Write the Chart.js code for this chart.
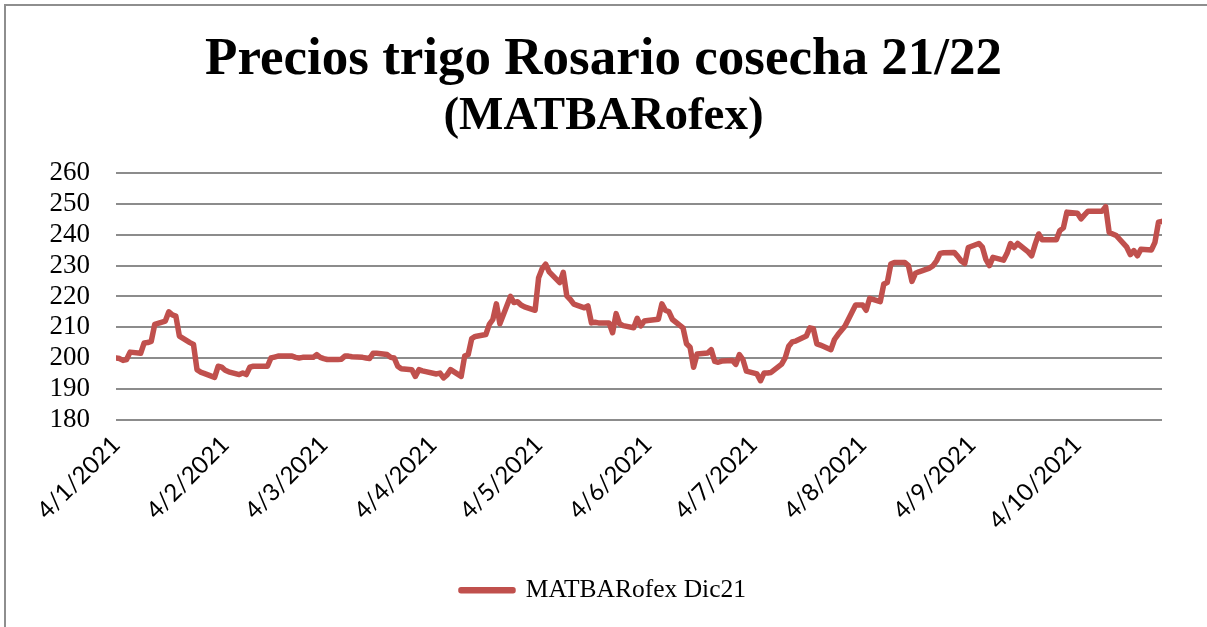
<!DOCTYPE html>
<html>
<head>
<meta charset="utf-8">
<script src="https://cdn.jsdelivr.net/npm/chart.js@4"></script>
<style>
  body { margin: 0; background: #fff; }
  #frame { position: absolute; left: 4px; top: 4px; width: 1400px; height: 800px;
           border-top: 2px solid #8e8e8e; border-left: 2px solid #8e8e8e; }
  #wrap { position: absolute; left: 0; top: 0; width: 1207px; height: 627px; overflow: hidden; }
  canvas { position: absolute; left: 0; top: 0; }
</style>
</head>
<body>
<div id="wrap">
  <div id="frame"></div>
  <canvas id="chart" width="1207" height="627"></canvas>
</div>
<script>
// fechas de rueda y precio (USD/t) MATBARofex Dic21
const dates = [
  "2021-01-04","2021-01-05","2021-01-06","2021-01-07","2021-01-08","2021-01-11","2021-01-12","2021-01-13","2021-01-14","2021-01-15",
  "2021-01-18","2021-01-19","2021-01-20","2021-01-21","2021-01-22","2021-01-25","2021-01-26","2021-01-27","2021-01-28","2021-01-29",
  "2021-02-01","2021-02-02","2021-02-03","2021-02-04","2021-02-05","2021-02-08","2021-02-09","2021-02-10","2021-02-11","2021-02-12",
  "2021-02-16","2021-02-17","2021-02-18","2021-02-19","2021-02-22","2021-02-23","2021-02-24","2021-02-25","2021-02-26",
  "2021-03-01","2021-03-02","2021-03-03","2021-03-04","2021-03-05","2021-03-08","2021-03-09","2021-03-10","2021-03-11","2021-03-12",
  "2021-03-15","2021-03-16","2021-03-17","2021-03-18","2021-03-19","2021-03-22","2021-03-23","2021-03-24","2021-03-25","2021-03-26",
  "2021-03-29","2021-03-30","2021-03-31","2021-04-01","2021-04-05","2021-04-06","2021-04-07","2021-04-08","2021-04-09",
  "2021-04-12","2021-04-13","2021-04-14","2021-04-15","2021-04-16","2021-04-19","2021-04-20","2021-04-21","2021-04-22","2021-04-23",
  "2021-04-26","2021-04-27","2021-04-28","2021-04-29","2021-04-30","2021-05-03","2021-05-04","2021-05-05","2021-05-06","2021-05-07",
  "2021-05-10","2021-05-11","2021-05-12","2021-05-13","2021-05-14","2021-05-17","2021-05-18","2021-05-19","2021-05-20","2021-05-21",
  "2021-05-24","2021-05-25","2021-05-26","2021-05-27","2021-05-28","2021-05-31","2021-06-01","2021-06-02","2021-06-03","2021-06-04",
  "2021-06-07","2021-06-08","2021-06-09","2021-06-10","2021-06-11","2021-06-14","2021-06-15","2021-06-16","2021-06-17","2021-06-18",
  "2021-06-21","2021-06-22","2021-06-23","2021-06-24","2021-06-25","2021-06-28","2021-06-29","2021-06-30","2021-07-01","2021-07-02",
  "2021-07-05","2021-07-06","2021-07-07","2021-07-08","2021-07-09","2021-07-12","2021-07-13","2021-07-14","2021-07-15","2021-07-16",
  "2021-07-19","2021-07-20","2021-07-21","2021-07-22","2021-07-23","2021-07-26","2021-07-27","2021-07-28","2021-07-29","2021-07-30",
  "2021-08-02","2021-08-03","2021-08-04","2021-08-05","2021-08-06","2021-08-09","2021-08-10","2021-08-11","2021-08-12","2021-08-13",
  "2021-08-16","2021-08-17","2021-08-18","2021-08-19","2021-08-20","2021-08-23","2021-08-24","2021-08-25","2021-08-26","2021-08-27",
  "2021-08-30","2021-08-31","2021-09-01","2021-09-02","2021-09-03","2021-09-06","2021-09-07","2021-09-08","2021-09-09","2021-09-10",
  "2021-09-13","2021-09-14","2021-09-15","2021-09-16","2021-09-17","2021-09-20","2021-09-21","2021-09-22","2021-09-23","2021-09-24",
  "2021-09-27","2021-09-28","2021-09-29","2021-09-30","2021-10-01","2021-10-04","2021-10-05","2021-10-06","2021-10-07","2021-10-08",
  "2021-10-11","2021-10-12","2021-10-13","2021-10-14","2021-10-15","2021-10-18","2021-10-19","2021-10-20","2021-10-21","2021-10-22",
  "2021-10-25","2021-10-26","2021-10-27","2021-10-28"
];
const prices = [
  200, 199.8, 199.2, 199.5, 201.9, 201.5, 204.9, 205, 205.4, 210.9,
  212, 215, 214, 213.6, 207.1, 205, 204.4, 196.2, 195.4, 195,
  193.7, 197.3, 197, 196, 195.5, 194.6, 195.1, 194.6, 197, 197.3,
  197.3, 200, 200.3, 200.6, 200.6, 200.6, 200.2, 200, 200.2,
  200.2, 201.1, 200.2, 199.8, 199.5, 199.5, 199.6, 200.6, 200.6, 200.4,
  200.2, 200, 199.8, 201.5, 201.5, 201.1, 200.2, 200, 197.3, 196.5,
  196.2, 194, 196.2, 195.8, 194.8, 195.1, 193.5, 194.5, 196.2,
  194, 200.6, 201.1, 206.3, 207, 207.6, 210.9, 212.5, 217.6, 211.1,
  220, 218, 218.3, 217.2, 216.6, 215.5, 226.1, 229, 230.5, 228,
  224.5, 227.8, 220.2, 219, 217.5, 216.3, 216.9, 211.4, 211.6, 211.4,
  211.4, 208.2, 214.4, 211.1, 210.5, 209.8, 212.9, 210.4, 212, 212.2,
  212.6, 217.6, 215.5, 215, 212.5, 209.8, 204.6, 203.5, 197, 201.3,
  201.6, 202.7, 198.9, 198.6, 199, 199.2, 197.9, 201.1, 199.5, 195.7,
  194.8, 192.6, 195.1, 195.1, 195.3, 198, 200, 203.8, 205.2, 205.5,
  207.1, 209.8, 209.5, 204.6, 204.2, 202.7, 206, 207.6, 209, 210.4,
  217.2, 217.2, 217.2, 215.5, 219.4, 218.3, 224, 224.5, 230.5, 231,
  231, 230, 224.9, 227.5, 228, 229.2, 230, 231.6, 234, 234.2,
  234.3, 233, 231.5, 230.7, 235.9, 237.2, 236, 232, 230, 232.7,
  231.8, 234, 237.2, 235.9, 237.2, 234.5, 233.2, 237, 240.3, 238.4,
  238.4, 238.4, 241.4, 242.3, 247.4, 247, 245.2, 246.5, 247.7, 247.7,
  247.7, 249.2, 240.8, 240.3, 239.8, 236, 233.6, 234.9, 233.2, 235.3,
  235.1, 237.6, 244.1, 244.4
];
const tickDates = ["2021-01-04","2021-02-04","2021-03-04","2021-04-04","2021-05-04","2021-06-04","2021-07-04","2021-08-04","2021-09-04","2021-10-04"];
const tickLabels = ["4/1/2021","4/2/2021","4/3/2021","4/4/2021","4/5/2021","4/6/2021","4/7/2021","4/8/2021","4/9/2021","4/10/2021"];
const yTicks = [180, 190, 200, 210, 220, 230, 240, 250, 260];

const DAY = 86400000;
const start = Date.parse(dates[0]);
function dayOf(s) { return Math.round((Date.parse(s) - start) / DAY); }

const points = dates.map((d, i) => ({ x: dayOf(d), y: prices[i] }));
const tickDays = tickDates.map(dayOf);
const lastDay = dayOf(dates[dates.length - 1]);

const ctx = document.getElementById('chart').getContext('2d');
new Chart(ctx, {
    type: 'line',
    data: {
        datasets: [{
            label: 'MATBARofex Dic21',
            data: points,
            borderColor: '#C0504D',
            backgroundColor: '#C0504D',
            borderWidth: 5.5,
            borderJoinStyle: 'round',
            borderCapStyle: 'round',
            pointRadius: 0,
            tension: 0
        }]
    },
    options: {
        responsive: false,
        animation: false,
        layout: { padding: { left: 45, right: 45, top: 0, bottom: 14 } },
        plugins: {
            title: {
                display: true,
                text: 'Precios trigo Rosario cosecha 21/22',
                color: '#000',
                font: { family: 'Liberation Serif', size: 53, weight: 'bold', lineHeight: 1.05 },
                padding: { top: 32, bottom: 0 }
            },
            subtitle: {
                display: true,
                text: '(MATBARofex)',
                color: '#000',
                font: { family: 'Liberation Serif', size: 47, weight: 'bold', lineHeight: 1.1 },
                padding: { top: 3, bottom: 31 }
            },
            legend: {
                position: 'bottom',
                labels: {
                    color: '#000',
                    boxWidth: 52,
                    boxHeight: 1,
                    font: { family: 'Liberation Serif', size: 25.5 }
                }
            },
            tooltip: { enabled: false }
        },
        scales: {
            x: {
                type: 'linear',
                min: 0,
                max: lastDay,
                afterBuildTicks: (axis) => { axis.ticks = tickDays.map(v => ({ value: v })); },
                afterFit: (axis) => { axis.height = 148; },
                grid: { display: false },
                border: { display: false },
                ticks: {
                    autoSkip: false,
                    minRotation: 45,
                    maxRotation: 45,
                    color: '#000',
                    font: { family: 'Lato', size: 24 },
                    callback: (value) => tickLabels[tickDays.indexOf(value)]
                }
            },
            y: {
                min: yTicks[0],
                max: yTicks[yTicks.length - 1],
                afterBuildTicks: (axis) => { axis.ticks = yTicks.map(v => ({ value: v })); },
                afterFit: (axis) => { axis.width = 71; },
                grid: { color: '#8c8c8c', lineWidth: 2, drawTicks: false },
                border: { display: false },
                ticks: {
                    autoSkip: false,
                    padding: 26,
                    color: '#000',
                    font: { family: 'Liberation Serif', size: 27, lineHeight: 1 }
                }
            }
        }
    }
});
</script>
</body>
</html>
